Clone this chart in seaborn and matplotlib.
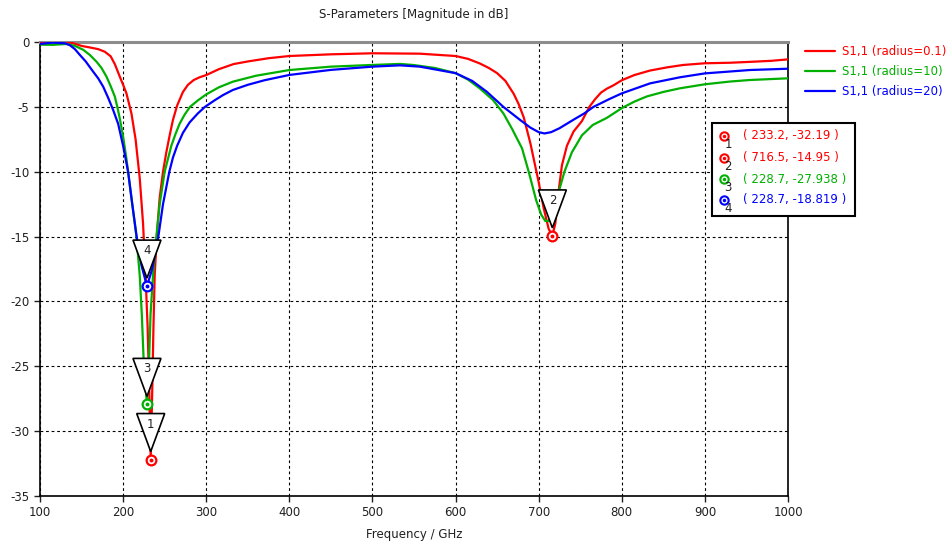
import seaborn as sns
import numpy as np
import matplotlib.pyplot as plt
import matplotlib.transforms as mtransforms
from matplotlib.patches import Polygon, Rectangle
from matplotlib.lines import Line2D

####### data ####################################

freqRed = [100, 110, 120, 130, 140, 150, 160, 170, 178, 185, 190, 196, 200, 204, 210, 215,
           220, 224, 227, 229.5, 231.5, 233.2, 235, 236.5, 238, 240.5, 244, 248, 252, 256,
           260, 265, 272, 278, 285, 292, 300, 315, 333, 350, 375, 400, 450, 500, 557, 600,
           615, 629, 640, 650, 660, 670, 676, 682, 690, 700, 706, 712, 716.5, 720, 724, 728,
           734, 742, 752, 761, 768, 775, 782, 790, 800, 815, 834, 855, 874, 900, 930, 958,
           980, 1000]
dbRed = [-0.05, 0.05, 0.08, 0.05, -0.1, -0.3, -0.42, -0.55, -0.75, -1.1, -1.7, -2.67, -3.3,
         -3.96, -5.5, -7.5, -10.5, -14, -18, -22, -27, -32.19, -27, -22, -18, -15, -12, -10,
         -8.5, -7.2, -6.0, -4.9, -3.85, -3.3, -2.93, -2.72, -2.55, -2.1, -1.7, -1.5, -1.25,
         -1.08, -0.95, -0.87, -0.9, -1.08, -1.3, -1.65, -2.0, -2.4, -3.0, -4.0, -4.8, -5.8,
         -7.8, -10.8, -12.8, -14.4, -14.95, -14.0, -11.5, -9.5, -8.0, -6.9, -6.1, -5.0, -4.4,
         -3.9, -3.6, -3.34, -2.95, -2.55, -2.2, -1.95, -1.77, -1.64, -1.6, -1.52, -1.45,
         -1.34]

freqGreen = [100, 115, 132, 142, 152, 160, 168, 174, 180, 185, 190, 193, 196, 200, 204, 208,
             212, 216, 220, 222.5, 225, 228.7, 231, 233, 236, 240, 244, 250, 254, 258, 263,
             268, 274, 280.5, 290, 300, 315, 332, 360, 400, 450, 500, 533, 549, 575, 600, 615,
             629, 645, 657.5, 668, 680, 688, 697, 703, 708, 712, 716, 723, 731, 740, 752, 765,
             782, 800, 815, 830, 850, 870, 900, 930, 954, 1000]
dbGreen = [-0.2, -0.22, -0.15, -0.3, -0.6, -1.0, -1.52, -2.0, -2.67, -3.4, -4.2, -5.0, -5.9,
           -7.3, -9.0, -11.0, -13.0, -15, -18, -21, -25, -27.938, -25, -21, -18, -15, -12.5,
           -10, -9, -8, -7.1, -6.3, -5.6, -5, -4.5, -4.04, -3.5, -3.06, -2.6, -2.16, -1.9,
           -1.77, -1.69, -1.77, -2.0, -2.4, -2.9, -3.57, -4.47, -5.5, -6.7, -8.2, -10, -12.2,
           -13.3, -13.8, -13.8, -13.3, -11.8, -10, -8.5, -7.2, -6.4, -5.85, -5.1, -4.6, -4.2,
           -3.85, -3.57, -3.26, -3.05, -2.93, -2.8]

freqBlue = [100, 115, 130, 136, 142, 148, 155, 164, 170, 176, 182, 188, 194, 200, 206, 211,
            216.3, 222, 228.7, 235, 242.4, 248, 255.6, 260, 265, 272, 280, 290, 298.5, 310,
            320, 332, 350, 370, 400, 450, 500, 533, 557, 600, 620, 637.5, 657.5, 677.5, 690,
            700, 707, 715, 725, 741.7, 755, 766, 785, 800, 834, 870, 900, 954, 1000]
dbBlue = [-0.15, -0.05, -0.1, -0.25, -0.55, -1.0, -1.5, -2.29, -2.8, -3.44, -4.3, -5.24, -6.3,
          -8.0, -10.0, -12.5, -15, -17.2, -18.819, -17.5, -15, -12.5, -10, -8.9, -8.0, -7.0,
          -6.2, -5.5, -5, -4.5, -4.1, -3.7, -3.3, -2.95, -2.54, -2.15, -1.9, -1.8, -1.9, -2.4,
          -3.0, -3.83, -5.0, -6.0, -6.6, -6.95, -7.05, -6.95, -6.65, -6.0, -5.5, -5.0, -4.4,
          -3.96, -3.19, -2.72, -2.42, -2.16, -2.06]

seriesNames = ["S1,1 (radius=0.1)", "S1,1 (radius=10)", "S1,1 (radius=20)"]
seriesColors = ["#ff0000", "#00b000", "#0000ff"]

markerIds = ["1", "2", "3", "4"]
markerFreq = [233.2, 716.5, 228.7, 228.7]
markerDb = [-32.19, -14.95, -27.938, -18.819]
markerColors = ["#ff0000", "#ff0000", "#00b000", "#0000ff"]

xTicks = [100, 200, 300, 400, 500, 600, 700, 800, 900, 1000]
yTicks = [0, -5, -10, -15, -20, -25, -30, -35]

#######   plotting   #############

sns.set_style("white")
plt.rcParams['font.family'] = ['DejaVu Sans']
plt.rcParams['axes.unicode_minus'] = False

W, H = 950, 548
fig = plt.figure(figsize=(W / 100, H / 100), dpi=100)
ax = fig.add_axes([40 / W, 1 - 496 / H, 748 / W, 454 / H])

for fx, fy, name, col in zip([freqRed, freqGreen, freqBlue], [dbRed, dbGreen, dbBlue],
                             seriesNames, seriesColors):
    sns.lineplot(x=fx, y=fy, color=col, linewidth=1.6, label=name, ax=ax, zorder=3)

ax.set_xlim(100, 1000)
ax.set_ylim(-35, 0)
ax.set_xticks(xTicks)
ax.set_yticks(yTicks)
ax.tick_params(axis='both', labelsize=8.5, colors='#202020', direction='out', length=4,
               width=1, bottom=True, left=True)
ax.grid(True, color='black', linestyle=(0, (2.5, 2.5)), linewidth=0.8)
for side in ['left', 'bottom', 'right']:
    ax.spines[side].set_color('black')
    ax.spines[side].set_linewidth(1.2)
ax.spines['top'].set_color('#8c8c8c')
ax.spines['top'].set_linewidth(2.2)

ax.set_title("S-Parameters [Magnitude in dB]", fontsize=8.5, color='#202020', pad=17)
ax.set_xlabel("Frequency / GHz", fontsize=8.5, color='#202020', labelpad=6)
ax.set_ylabel("")

# legend outside on the right
ax.legend(loc='upper left', bbox_to_anchor=(800 / W, 1 - 40 / H), bbox_transform=fig.transFigure,
          frameon=False, fontsize=8.5, handlelength=2.6, handletextpad=0.6, labelspacing=0.62,
          borderaxespad=0, labelcolor='linecolor')

# marker triangles and circles on the curves
for mid, fx, fy, col in zip(markerIds, markerFreq, markerDb, markerColors):
    tr = fig.dpi_scale_trans + mtransforms.ScaledTranslation(fx, fy, ax.transData)
    tri = Polygon([(-0.14, 0.46), (0.14, 0.46), (0, 0.08)], closed=True, facecolor='white',
                  edgecolor='black', linewidth=1.2, transform=tr, zorder=5, clip_on=False)
    ax.add_patch(tri)
    ax.text(0, 0.355, mid, transform=tr, ha='center', va='center', fontsize=8.5,
            color='#202020', zorder=6)
    ax.plot([fx], [fy], marker='o', ms=7, mfc='white', mec=col, mew=1.6, zorder=7,
            clip_on=False)
    ax.plot([fx], [fy], marker='o', ms=1.8, mfc=col, mec=col, zorder=8, clip_on=False)

# marker value box
fig.add_artist(Rectangle((712 / W, 1 - 216 / H), 143 / W, 93 / H, transform=fig.transFigure,
                         facecolor='white', edgecolor='black', linewidth=1.5, zorder=10))
rowY = [136, 158, 179, 200]
for mid, fx, fy, col, ry in zip(markerIds, markerFreq, markerDb, markerColors, rowY):
    yy = 1 - ry / H
    fig.add_artist(Line2D([724 / W], [yy], marker='o', ms=6, mfc='white', mec=col, mew=1.5,
                          transform=fig.transFigure, zorder=11))
    fig.add_artist(Line2D([724 / W], [yy], marker='o', ms=1.5, mfc=col, mec=col,
                          transform=fig.transFigure, zorder=12))
    fig.text(728 / W, 1 - (ry + 8) / H, mid, fontsize=8.5, color='#202020', ha='center',
             va='center', zorder=12)
    fig.text(743 / W, yy, "( %g, %g )" % (fx, fy), fontsize=8.5, color=col, ha='left',
             va='center', zorder=12)

plt.savefig("out.png", dpi=100)
